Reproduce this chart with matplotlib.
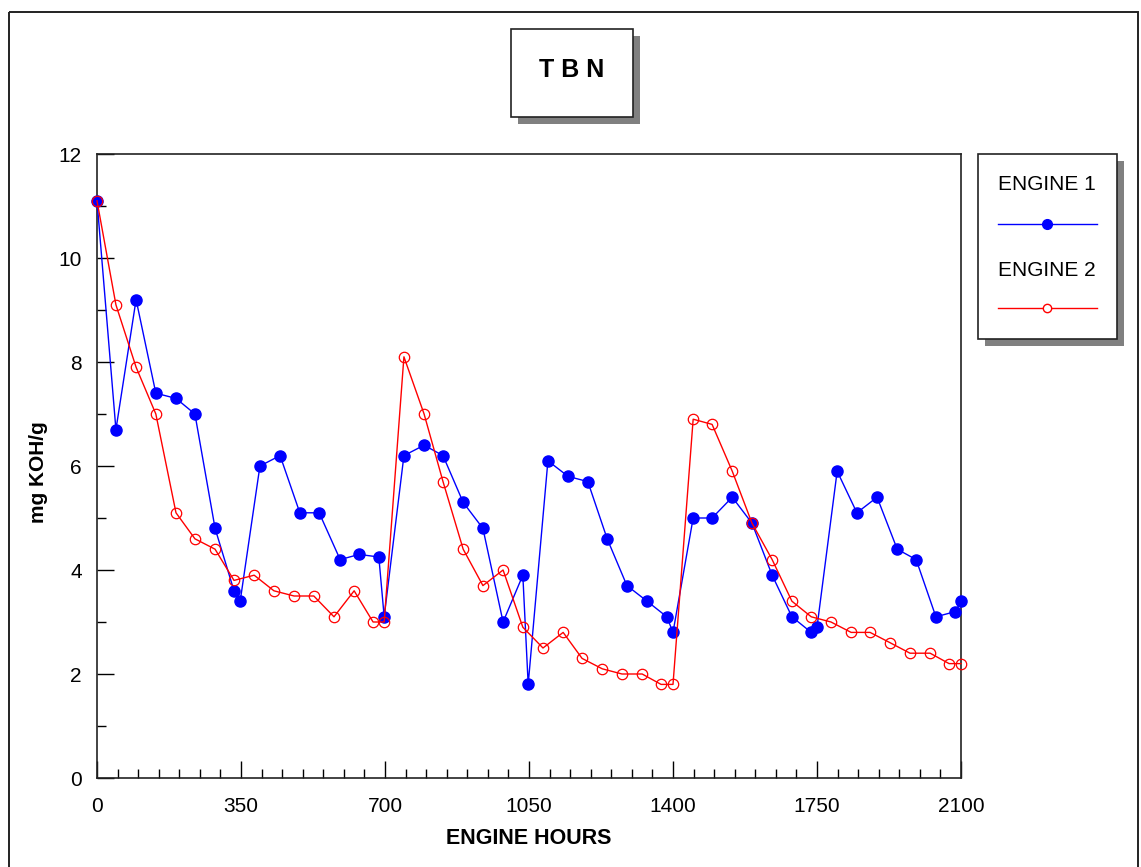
import matplotlib.pyplot as plt
from matplotlib.patches import Rectangle
from matplotlib.lines import Line2D
from matplotlib.ticker import MultipleLocator

plt.rcParams['font.family'] = ['Liberation Sans', 'DejaVu Sans']

# Engine 1 (blue, filled markers)
hours_1 = [0, 46, 95, 143, 192, 238, 287, 333, 348, 396, 445, 493, 540, 591, 637, 685, 698,
           746, 795, 841, 890, 938, 987, 1035, 1048, 1096, 1145, 1193, 1240, 1288, 1337, 1385, 1400,
           1449, 1495, 1544, 1592, 1641, 1689, 1736, 1750, 1799, 1847, 1896, 1945, 1991, 2039, 2086, 2100]
tbn_1 = [11.1, 6.7, 9.2, 7.4, 7.3, 7.0, 4.8, 3.6, 3.4, 6.0, 6.2, 5.1, 5.1, 4.2, 4.3, 4.25, 3.1,
         6.2, 6.4, 6.2, 5.3, 4.8, 3.0, 3.9, 1.8, 6.1, 5.8, 5.7, 4.6, 3.7, 3.4, 3.1, 2.8,
         5.0, 5.0, 5.4, 4.9, 3.9, 3.1, 2.8, 2.9, 5.9, 5.1, 5.4, 4.4, 4.2, 3.1, 3.2, 3.4]

# Engine 2 (red, open markers)
hours_2 = [0, 46, 95, 143, 192, 238, 287, 333, 382, 430, 479, 527, 576, 625, 671, 698,
           746, 795, 841, 890, 938, 987, 1035, 1084, 1133, 1179, 1228, 1276, 1325, 1371, 1400,
           1449, 1495, 1544, 1592, 1641, 1689, 1736, 1784, 1833, 1879, 1928, 1976, 2025, 2071, 2100]
tbn_2 = [11.1, 9.1, 7.9, 7.0, 5.1, 4.6, 4.4, 3.8, 3.9, 3.6, 3.5, 3.5, 3.1, 3.6, 3.0, 3.0,
         8.1, 7.0, 5.7, 4.4, 3.7, 4.0, 2.9, 2.5, 2.8, 2.3, 2.1, 2.0, 2.0, 1.8, 1.8,
         6.9, 6.8, 5.9, 4.9, 4.2, 3.4, 3.1, 3.0, 2.8, 2.8, 2.6, 2.4, 2.4, 2.2, 2.2]

series_names = ['ENGINE 1', 'ENGINE 2']
x_ticks = [0, 350, 700, 1050, 1400, 1750, 2100]
y_ticks = [0, 2, 4, 6, 8, 10, 12]

W, H = 1141, 867
fig = plt.figure(figsize=(W / 100, H / 100), dpi=100)

# overlay in pixel coordinates for frame, title box and legend box
ov = fig.add_axes([0, 0, 1, 1])
ov.set_xlim(0, W)
ov.set_ylim(H, 0)
ov.axis('off')
ov.set_zorder(0)

# outer frame
ov.add_patch(Rectangle((9, 12), 1129, 900, fill=False, edgecolor='#222222', lw=1.4))

# title box with shadow
ov.add_patch(Rectangle((518, 36), 122, 88, facecolor='#808080', edgecolor='none'))
ov.add_patch(Rectangle((511, 29), 122, 88, facecolor='white', edgecolor='#222222', lw=1.2))
ov.text(572, 77, 'T B N', ha='center', va='baseline', fontsize=18, fontweight='bold')

# legend box with shadow
ov.add_patch(Rectangle((985, 161), 139, 185, facecolor='#808080', edgecolor='none'))
ov.add_patch(Rectangle((978, 154), 139, 185, facecolor='white', edgecolor='#222222', lw=1.2))
ov.text(1047, 190, series_names[0], ha='center', va='baseline', fontsize=15)
ov.add_line(Line2D([998, 1097], [224, 224], color='#0000ff', lw=1.0))
ov.plot([1047], [224], 'o', color='#0000ff', ms=7)
ov.text(1047, 276, series_names[1], ha='center', va='baseline', fontsize=15)
ov.add_line(Line2D([998, 1097], [308, 308], color='#ff0000', lw=1.0))
ov.plot([1047], [308], 'o', mfc='white', mec='#ff0000', mew=1.0, ms=6)

# main chart
ax = fig.add_axes([97 / W, 1 - 778 / H, 864 / W, 624 / H])
ax.set_zorder(1)
ax.plot(hours_1, tbn_1, '-o', color='#0000ff', lw=1.0, ms=8, clip_on=False, zorder=3)
ax.plot(hours_2, tbn_2, '-o', color='#ff0000', lw=1.0, ms=7.5, mfc='none', mec='#ff0000',
        mew=0.9, clip_on=False, zorder=4)

ax.set_xlim(0, 2100)
ax.set_ylim(0, 12)
ax.set_xticks(x_ticks)
ax.set_yticks(y_ticks)
ax.xaxis.set_minor_locator(MultipleLocator(50))
ax.yaxis.set_minor_locator(MultipleLocator(1))
ax.tick_params(which='both', direction='in', top=False, right=False, width=1.0, labelsize=15)
ax.tick_params(axis='x', pad=14)
ax.tick_params(axis='y', pad=11)
ax.tick_params(which='major', length=12.5)
ax.tick_params(which='minor', length=6.5)
for s in ax.spines.values():
    s.set_linewidth(1.2)
    s.set_color('#222222')

ax.set_xlabel('ENGINE HOURS', fontsize=15.5, fontweight='bold')
ax.xaxis.label.set_va('baseline')
ax.xaxis.set_label_coords(0.5, -0.106)
ax.set_ylabel('mg KOH/g', fontsize=15, fontweight='bold')
ax.yaxis.set_label_coords(-0.057, 0.49)

fig.savefig('out.png', dpi=100)
